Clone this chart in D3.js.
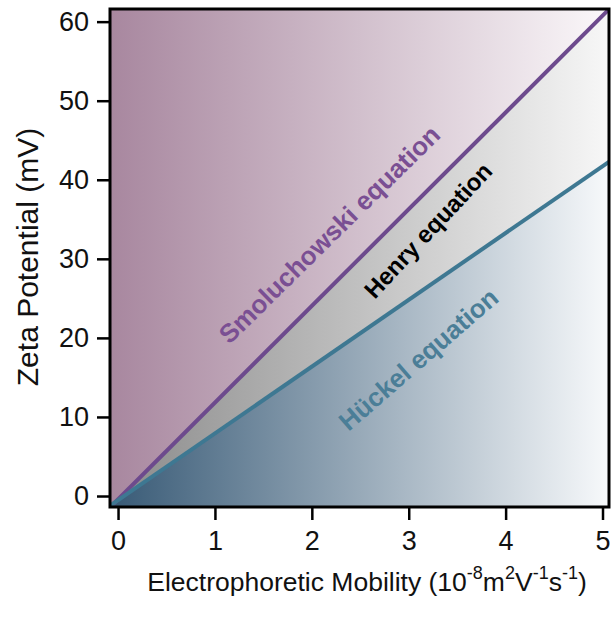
<!DOCTYPE html>
<html>
<head>
<meta charset="utf-8">
<script src="https://cdn.jsdelivr.net/npm/d3@7"></script>
<style>
  html, body { margin: 0; padding: 0; background: #fff; }
  svg { display: block; font-family: "Liberation Sans", Arial, sans-serif; }
</style>
</head>
<body>
<svg id="chart" width="616" height="621"></svg>
<script>
// Electrophoretic mobility (10^-8 m^2 V^-1 s^-1) at the two ends of the plotted range
const mobility = [-0.08, 5.07];
// Zeta potential (mV) for each limiting model at those mobilities
const smoluchowski = [-1.4, 61.6];
const huckel = [-1.2, 42.3];

const xTicks = [0, 1, 2, 3, 4, 5];
const yTicks = [0, 10, 20, 30, 40, 50, 60];

const labels = [
  { text: "Smoluchowski equation", x: 2.18, y: 33.1, angle: -44.5, size: 26, color: "#7a4f93" },
  { text: "Henry equation", x: 3.2, y: 33.6, angle: -47, size: 24, color: "#000000" },
  { text: "Hückel equation", x: 3.1, y: 17.3, angle: -41, size: 26, color: "#4b7e97" }
];

const svg = d3.select("#chart");
const pL = 110, pR = 609, pT = 9, pB = 507;

const x = d3.scaleLinear().domain([-0.083, 5.067]).range([pL, pR]);
const y = d3.scaleLinear().domain([-1.39, 61.6]).range([pB, pT]);

const defs = svg.append("defs");
function grad(id, c0, c1) {
  const g = defs.append("linearGradient").attr("id", id)
    .attr("gradientUnits", "userSpaceOnUse")
    .attr("x1", pL).attr("x2", pR).attr("y1", 0).attr("y2", 0);
  g.append("stop").attr("offset", 0).attr("stop-color", c0);
  g.append("stop").attr("offset", 1).attr("stop-color", c1);
}
grad("gPurple", "#a8879f", "#fbf8fa");
grad("gGray", "#8a8a8a", "#f7f7f7");
grad("gBlue", "#385a76", "#f7f9fb");

defs.append("clipPath").attr("id", "plotClip")
  .append("rect").attr("x", pL).attr("y", pT)
  .attr("width", pR - pL).attr("height", pB - pT);

const rows = mobility.map((m, i) => ({ m, s: smoluchowski[i], h: huckel[i] }));
const plot = svg.append("g").attr("clip-path", "url(#plotClip)");

// region above the Smoluchowski limit
plot.append("rect").attr("x", pL).attr("y", pT)
  .attr("width", pR - pL).attr("height", pB - pT)
  .attr("fill", "url(#gPurple)");

// Henry region between the two limits
plot.append("path").datum(rows)
  .attr("d", d3.area().x(d => x(d.m)).y0(d => y(d.h)).y1(d => y(d.s)))
  .attr("fill", "url(#gGray)");

// region below the Hückel limit
plot.append("path").datum(rows)
  .attr("d", d3.area().x(d => x(d.m)).y0(pB + 5).y1(d => y(d.h)))
  .attr("fill", "url(#gBlue)");

const line = key => d3.line().x(d => x(d.m)).y(d => y(d[key]));
plot.append("path").datum(rows).attr("d", line("s"))
  .attr("fill", "none").attr("stroke", "#6d4a8d").attr("stroke-width", 4);
plot.append("path").datum(rows).attr("d", line("h"))
  .attr("fill", "none").attr("stroke", "#3e7892").attr("stroke-width", 4);

// rotated equation labels
labels.forEach(l => {
  svg.append("text")
    .attr("transform", `translate(${x(l.x)},${y(l.y)}) rotate(${l.angle})`)
    .attr("text-anchor", "middle").attr("dy", "0.35em")
    .attr("font-size", l.size).attr("font-weight", "bold")
    .attr("fill", l.color).text(l.text);
});

// frame
svg.append("rect").attr("x", pL).attr("y", pT)
  .attr("width", pR - pL).attr("height", pB - pT)
  .attr("fill", "none").attr("stroke", "#000").attr("stroke-width", 3);

// axes
const xAxis = svg.append("g").attr("transform", `translate(0,${pB})`)
  .call(d3.axisBottom(x).tickValues(xTicks).tickFormat(d3.format("d"))
    .tickSizeOuter(0).tickSizeInner(13).tickPadding(11));
const yAxis = svg.append("g").attr("transform", `translate(${pL},0)`)
  .call(d3.axisLeft(y).tickValues(yTicks).tickFormat(d3.format("d"))
    .tickSizeOuter(0).tickSizeInner(13).tickPadding(8));
[xAxis, yAxis].forEach(a => {
  a.select(".domain").remove();
  a.selectAll(".tick line").attr("stroke", "#000").attr("stroke-width", 2.5);
  a.selectAll(".tick text").attr("font-size", 27).attr("fill", "#111")
    .attr("font-family", "'Liberation Sans', Arial, sans-serif");
});

// axis titles
svg.append("text")
  .attr("transform", "translate(38,257) rotate(-90)")
  .attr("text-anchor", "middle").attr("font-size", 30).attr("fill", "#111")
  .text("Zeta Potential (mV)");

const xt = svg.append("text").attr("x", 367).attr("y", 591)
  .attr("text-anchor", "middle").attr("font-size", 26.5).attr("fill", "#111");
xt.append("tspan").text("Electrophoretic Mobility (10");
xt.append("tspan").attr("dy", -12).attr("font-size", 18).text("-8");
xt.append("tspan").attr("dy", 12).text("m");
xt.append("tspan").attr("dy", -12).attr("font-size", 18).text("2");
xt.append("tspan").attr("dy", 12).text("V");
xt.append("tspan").attr("dy", -12).attr("font-size", 18).text("-1");
xt.append("tspan").attr("dy", 12).text("s");
xt.append("tspan").attr("dy", -12).attr("font-size", 18).text("-1");
xt.append("tspan").attr("dy", 12).text(")");
</script>
</body>
</html>
